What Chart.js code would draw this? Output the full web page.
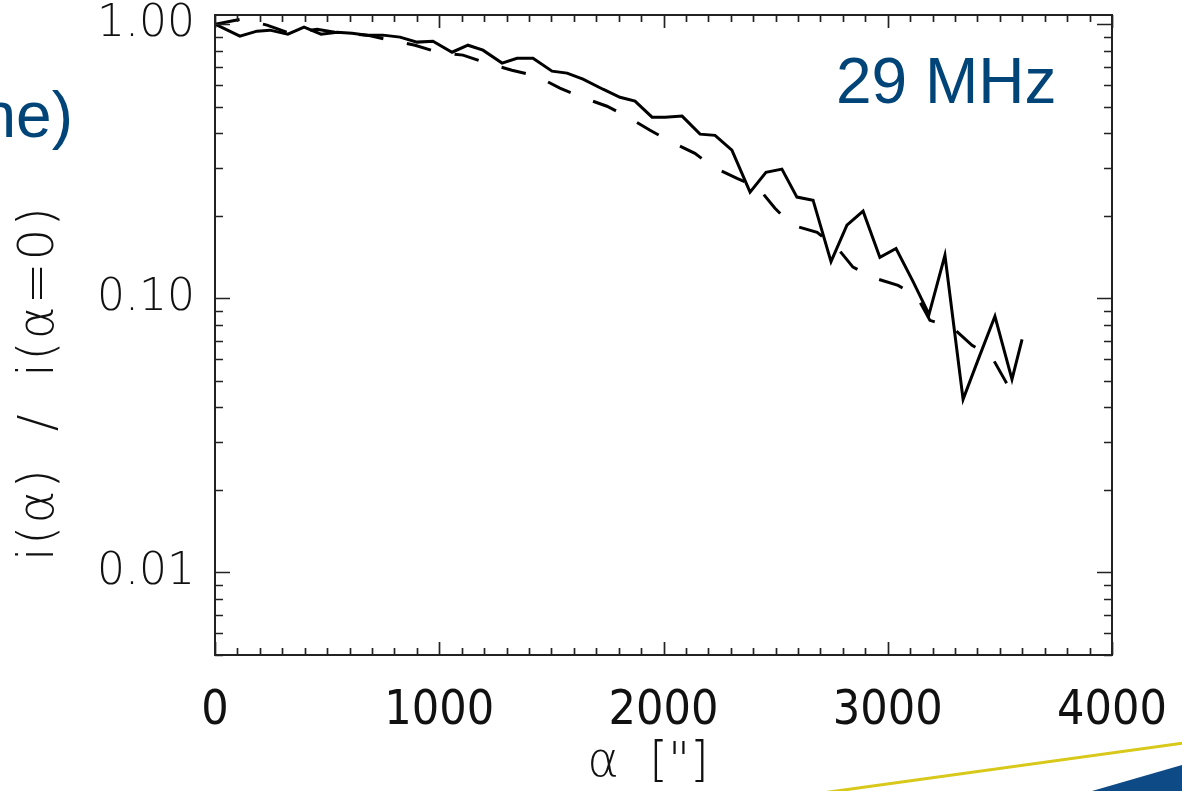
<!DOCTYPE html>
<html><head><meta charset="utf-8">
<script src="https://cdn.jsdelivr.net/npm/chart.js@4"></script>
<style>html,body{margin:0;padding:0;background:#fff;overflow:hidden}#wrap{position:relative;width:1182px;height:791px}</style>
</head><body><div id="wrap"><canvas id="c" width="1182" height="791"></canvas></div>
<script>
// ---- data ----
const alphaSolid = [0,111,187,245,325,397,473,544,611,678,749,825,901,972,1057,1128,1195,1280,1347,1418,1503,1570,1641,1730,1806,1873,1949,2007,2083,2163,2230,2305,2386,2457,2528,2595,2667,2747,2818,2890,2965,3037,3113,3184,3255,3336,3407,3478,3554,3599];
const ratioSolid = [1.000,0.904,0.943,0.951,0.919,0.975,0.919,0.935,0.927,0.912,0.912,0.897,0.860,0.867,0.790,0.838,0.804,0.721,0.751,0.751,0.674,0.663,0.630,0.579,0.541,0.524,0.458,0.458,0.462,0.397,0.393,0.347,0.244,0.288,0.296,0.234,0.228,0.136,0.185,0.208,0.141,0.152,0.115,0.0874,0.1435,0.0428,0.0609,0.0860,0.0506,0.0709];
const alphaModel = [0,120,232,334,455,558,678,780,892,994,1106,1213,1324,1436,1538,1637,1748,1842,1940,2038,2140,2221,2328,2421,2497,2573,2685,2774,2845,2934,3046,3130,3188,3287,3376,3465,3523,3559,3585];
const ratioModel = [1.000,1.043,0.992,0.927,0.959,0.927,0.912,0.874,0.838,0.790,0.771,0.721,0.679,0.646,0.584,0.541,0.502,0.458,0.410,0.371,0.338,0.301,0.274,0.254,0.213,0.185,0.174,0.153,0.130,0.119,0.1115,0.1017,0.0831,0.0784,0.0674,0.0609,0.0502,0.0446,0.0458];
const xTickValues = [0,1000,2000,3000,4000];
const yTickValues = [0.01,0.1,1];
const xTitle = 'α  ["]';
const yTitle = 'i(α)  /  i(α=0)';
const freqLabel = '29 MHz';
const slideFragment = 'ne)';

const toPts = (xs, ys) => xs.map((x, i) => ({x: x, y: ys[i]}));
const INK = '#111';
const BLUE = '#004478';

const frame = {
  id: 'frame',
  afterDatasetsDraw(chart) {
    const {ctx, chartArea: a, scales: {x, y}} = chart;
    ctx.save();
    ctx.strokeStyle = '#222';
    ctx.lineWidth = 2;
    ctx.strokeRect(a.left, a.top, a.right - a.left, a.bottom - a.top);
    ctx.lineWidth = 1.7;
    ctx.beginPath();
    for (let v = x.min; v <= x.max + 1e-6; v += 100) {
      const px = Math.round(x.getPixelForValue(v)) + 0.5;
      const len = (Math.round(v) % 1000 === 0) ? 13 : 7;
      ctx.moveTo(px, a.bottom); ctx.lineTo(px, a.bottom - len);
      ctx.moveTo(px, a.top); ctx.lineTo(px, a.top + len);
    }
    for (let e = -3; e <= 0; e++) {
      const d = Math.pow(10, e);
      for (let m = 1; m <= 9; m++) {
        const v = m * d;
        if (v < y.min || v > y.max) continue;
        const py = Math.round(y.getPixelForValue(v)) + 0.5;
        const len = m === 1 ? 15 : 8;
        ctx.moveTo(a.left, py); ctx.lineTo(a.left + len, py);
        ctx.moveTo(a.right, py); ctx.lineTo(a.right - len, py);
      }
    }
    ctx.stroke();
    ctx.restore();
  },
  afterDraw(chart) {
    const {ctx} = chart;
    ctx.save();
    // axis titles
    ctx.fillStyle = INK;
    ctx.font = '200 48px "DejaVu Sans", sans-serif';
    ctx.textAlign = 'center';
    ctx.textBaseline = 'middle';
    ctx.fillText(xTitle, 648, 764);
    ctx.translate(40, 383);
    ctx.rotate(-Math.PI / 2);
    ctx.font = '200 50px "DejaVu Sans", sans-serif';
    try { ctx.letterSpacing = '2px'; } catch (e) {}
    ctx.fillText(yTitle, 0, 0);
    ctx.restore();

    ctx.save();
    ctx.fillStyle = BLUE;
    ctx.font = '64px "Liberation Sans", Arial, sans-serif';
    ctx.textBaseline = 'alphabetic';
    ctx.textAlign = 'left';
    ctx.fillText(freqLabel, 836, 103);
    ctx.textAlign = 'right';
    ctx.fillText(slideFragment, 73, 137);
    // slide decoration
    ctx.strokeStyle = '#d8c81a';
    ctx.lineWidth = 3;
    ctx.beginPath(); ctx.moveTo(822, 793); ctx.lineTo(1184, 743); ctx.stroke();
    ctx.fillStyle = '#0d4a86';
    ctx.beginPath(); ctx.moveTo(1092, 791); ctx.lineTo(1182, 765); ctx.lineTo(1182, 791); ctx.closePath(); ctx.fill();
    ctx.restore();
  }
};

new Chart(document.getElementById('c'), {
  type: 'scatter',
  data: {
    datasets: [
      { label: 'observed', data: toPts(alphaSolid, ratioSolid), showLine: true, borderColor: '#000', borderWidth: 3, pointRadius: 0, tension: 0, fill: false },
      { label: 'model', data: toPts(alphaModel, ratioModel), showLine: true, borderColor: '#000', borderWidth: 3, borderDash: [25, 24], pointRadius: 0, tension: 0, fill: false }
    ]
  },
  options: {
    responsive: false,
    devicePixelRatio: 1,
    animation: false,
    layout: { padding: { top: 15, right: 70, left: 0, bottom: 0 } },
    plugins: { legend: { display: false }, tooltip: { enabled: false } },
    scales: {
      x: {
        type: 'linear', min: 0, max: 4000,
        grid: { display: false, drawTicks: false },
        border: { display: false },
        afterBuildTicks: s => { s.ticks = xTickValues.map(v => ({value: v})); },
        afterFit: s => { s.height = 136; s.paddingLeft = 0; s.paddingRight = 0; },
        ticks: {
          color: INK, padding: 28, maxRotation: 0, autoSkip: false,
          font: { family: '"DejaVu Sans Condensed", "DejaVu Sans", sans-serif', size: 48, weight: '200' },
          callback: v => String(v)
        }
      },
      y: {
        type: 'logarithmic', min: 0.005, max: 1.08,
        grid: { display: false, drawTicks: false },
        border: { display: false },
        afterBuildTicks: s => { s.ticks = yTickValues.map(v => ({value: v})); },
        afterFit: s => { s.width = 215; s.paddingTop = 0; s.paddingBottom = 0; },
        ticks: {
          color: INK, padding: 20, autoSkip: false,
          font: { family: '"DejaVu Sans", sans-serif', size: 44, weight: '200' },
          callback: v => Number(v).toFixed(2)
        }
      }
    }
  },
  plugins: [frame]
});
</script>
</body></html>
